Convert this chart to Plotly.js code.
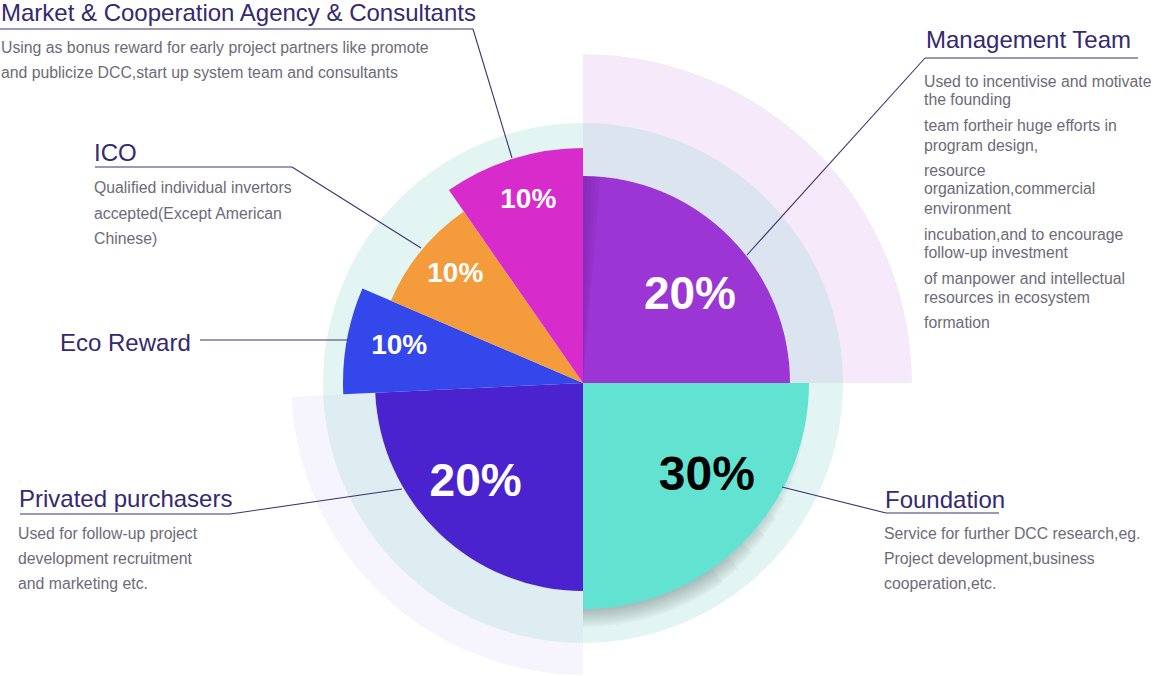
<!DOCTYPE html>
<html>
<head>
<meta charset="utf-8">
<script src="https://cdn.plot.ly/plotly-3.0.1.min.js"></script>
<style>
  html, body { margin: 0; padding: 0; background: #ffffff; }
  #chart { width: 1153px; height: 676px; }
</style>
</head>
<body>
<div id="chart"></div>
<script>
// ---------------- DATA ----------------
const categories = [
  "Management Team",
  "Foundation",
  "Privated purchasers",
  "Eco Reward",
  "ICO",
  "Market & Cooperation Agency & Consultants"
];
const shareLabels = ["20%", "30%", "20%", "10%", "10%", "10%"];
// slice outer radius (polar units) and angular span (degrees)
const sliceRadius = [207, 226, 208, 240, 209, 235];
const sliceSpan   = [90, 90, 87.3, 25.9, 32, 34.8];

const descriptions = [
  ["Used to incentivise and motivate", "the founding", "team fortheir huge efforts in", "program design,",
   "resource", "organization,commercial", "environment", "incubation,and to encourage",
   "follow-up investment", "of manpower and intellectual", "resources in ecosystem", "formation"],
  ["Service for further DCC research,eg.", "Project development,business", "cooperation,etc."],
  ["Used for follow-up project", "development recruitment", "and marketing etc."],
  [],
  ["Qualified individual invertors", "accepted(Except American", "Chinese)"],
  ["Using as bonus reward for early project partners like promote", "and publicize DCC,start up system team and consultants"]
];

// ---------------- STYLE ----------------
const W = 1153, H = 676;
const CX = 583, CY = 383;            // pie centre in pixels
const RING_R = 260;                  // teal backdrop disc
const HALO_TR = 329, HALO_BL = 292;  // decorative halos
const sliceColors = ["#9b35d3", "#62e3d1", "#4a23ce", "#3347ea", "#f49c3c", "#d72bcc"];
const labelColors = ["#ffffff", "#000000", "#ffffff", "#ffffff", "#ffffff", "#ffffff"];
const labelSizes  = [46, 48, 46, 28, 28, 28];
const labelRFrac  = [0.66, 0.69, 0.71, 0.78, 0.80, 0.81];
const labelTOff   = [6.5, -7.6, 3, 0.7, 1, 0.7];
const titleColor = "#35296f", descColor = "#6d6b78", lineColor = "#3d3270";
const FONT = "Liberation Sans, Arial, sans-serif";

// cumulative angular centres (clockwise from 12 o'clock)
const sliceCenter = [];
let acc = 0;
for (let i = 0; i < sliceSpan.length; i++) { sliceCenter.push(acc + sliceSpan[i] / 2); acc += sliceSpan[i]; }

const px = x => x / W;
const py = y => 1 - y / H;

const angAxis = { visible: false, rotation: 90, direction: "clockwise", showgrid: false, showline: false, showticklabels: false, ticks: "" };
function radAxis(max) { return { visible: false, range: [0, max], showgrid: false, showline: false, showticklabels: false, ticks: "" }; }

const traces = [];
// halo behind Management Team (top-right)
traces.push({
  type: "barpolar", subplot: "polar",
  r: [HALO_TR], theta: [sliceCenter[0]], width: [sliceSpan[0]],
  marker: { color: "#f5e9fa", line: { width: 0 } }, hoverinfo: "skip"
});
// halo behind Privated purchasers (bottom-left)
traces.push({
  type: "barpolar", subplot: "polar2",
  r: [HALO_BL], theta: [sliceCenter[2]], width: [sliceSpan[2]],
  marker: { color: "#f6f4fd", line: { width: 0 } }, hoverinfo: "skip"
});
// soft shadow beneath Foundation slice (stacked translucent layers)
const fEnd = sliceCenter[1] + sliceSpan[1] / 2;
for (let k = 1; k <= 9; k++) {
  const start = 100 + k * 5;
  traces.push({
    type: "barpolar", subplot: "polar3",
    r: [sliceRadius[1] + k * 2], theta: [(start + fEnd) / 2], width: [fEnd - start],
    marker: { color: "rgba(30,60,60,0.035)", line: { width: 0 } }, hoverinfo: "skip"
  });
}
// the slices
traces.push({
  type: "barpolar", subplot: "polar3",
  r: sliceRadius, theta: sliceCenter, width: sliceSpan,
  text: categories, hoverinfo: "text",
  marker: { color: sliceColors, line: { width: 0 } }
});
// subtle shading on Management slice's left edge
for (let k = 1; k <= 4; k++) {
  traces.push({
    type: "barpolar", subplot: "polar3",
    r: [sliceRadius[0]], theta: [k * 0.6], width: [k * 1.2],
    marker: { color: "rgba(40,0,60,0.04)", line: { width: 0 } }, hoverinfo: "skip"
  });
}
// percentage labels
traces.push({
  type: "scatterpolar", subplot: "polar3", mode: "text",
  r: sliceRadius.map((r, i) => r * labelRFrac[i]),
  theta: sliceCenter.map((t, i) => t + labelTOff[i]),
  text: shareLabels,
  textfont: { family: FONT, size: labelSizes, color: labelColors, weight: 700 },
  hoverinfo: "skip"
});

// ---------------- annotations & leader lines ----------------
const titlePos = [[925, 40], [884, 499.5], [18, 498.5], [59, 342.5], [93, 152], [0, 12.5]];
const descPos = [
  [923, [81, 100, 126, 145, 170, 189, 208, 234, 253, 278, 297, 322]],
  [883, [533, 558, 583]],
  [17, [533, 558, 583]],
  [0, []],
  [93, [188, 213, 238]],
  [0, [47.5, 72.5]]
];
const annotations = [];
categories.forEach((c, i) => {
  annotations.push({
    xref: "paper", yref: "paper", x: px(titlePos[i][0]), y: py(titlePos[i][1]),
    xanchor: "left", yanchor: "middle", showarrow: false, borderpad: 0,
    text: c, font: { family: FONT, size: 24, color: titleColor }
  });
  descriptions[i].forEach((line, k) => {
    annotations.push({
      xref: "paper", yref: "paper", x: px(descPos[i][0]), y: py(descPos[i][1][k]),
      xanchor: "left", yanchor: "middle", showarrow: false, borderpad: 0,
      text: line, font: { family: FONT, size: 15.8, color: descColor }
    });
  });
});

const leaders = [
  [[0, 29], [473, 29], [512, 158]],
  [[95, 167], [292, 167], [421, 248]],
  [[200, 340], [348, 340]],
  [[1138, 58], [925, 58], [747, 255]],
  [[20, 514], [230, 514], [402, 489]],
  [[999, 513], [886, 513], [782, 487]]
];
const shapes = [];
leaders.forEach(pts => {
  for (let k = 0; k < pts.length - 1; k++) {
    shapes.push({
      type: "line", xref: "paper", yref: "paper", layer: "above",
      x0: px(pts[k][0]), y0: py(pts[k][1]), x1: px(pts[k + 1][0]), y1: py(pts[k + 1][1]),
      line: { color: lineColor, width: 1.1 }
    });
  }
});

const bottomPx = H - CY; // distance from centre to bottom edge
const layout = {
  width: W, height: H,
  margin: { l: 0, r: 0, t: 0, b: 0 },
  paper_bgcolor: "#ffffff", plot_bgcolor: "#ffffff",
  showlegend: false,
  font: { family: FONT },
  polar: {
    sector: [0, 90],
    domain: { x: [px(CX), px(CX + HALO_TR)], y: [(bottomPx) / H, (bottomPx + HALO_TR) / H] },
    bgcolor: "rgba(0,0,0,0)", angularaxis: angAxis, radialaxis: radAxis(HALO_TR)
  },
  polar2: {
    sector: [180, 270],
    domain: { x: [px(CX - HALO_BL), px(CX)], y: [(bottomPx - HALO_BL) / H, bottomPx / H] },
    bgcolor: "rgba(0,0,0,0)", angularaxis: angAxis, radialaxis: radAxis(HALO_BL)
  },
  polar3: {
    domain: { x: [px(CX - RING_R), px(CX + RING_R)], y: [(bottomPx - RING_R) / H, (bottomPx + RING_R) / H] },
    bgcolor: "rgba(162,222,215,0.3)", angularaxis: angAxis, radialaxis: radAxis(RING_R)
  },
  annotations: annotations,
  shapes: shapes
};

Plotly.newPlot("chart", traces, layout, { displayModeBar: false, responsive: false });
</script>
</body>
</html>
